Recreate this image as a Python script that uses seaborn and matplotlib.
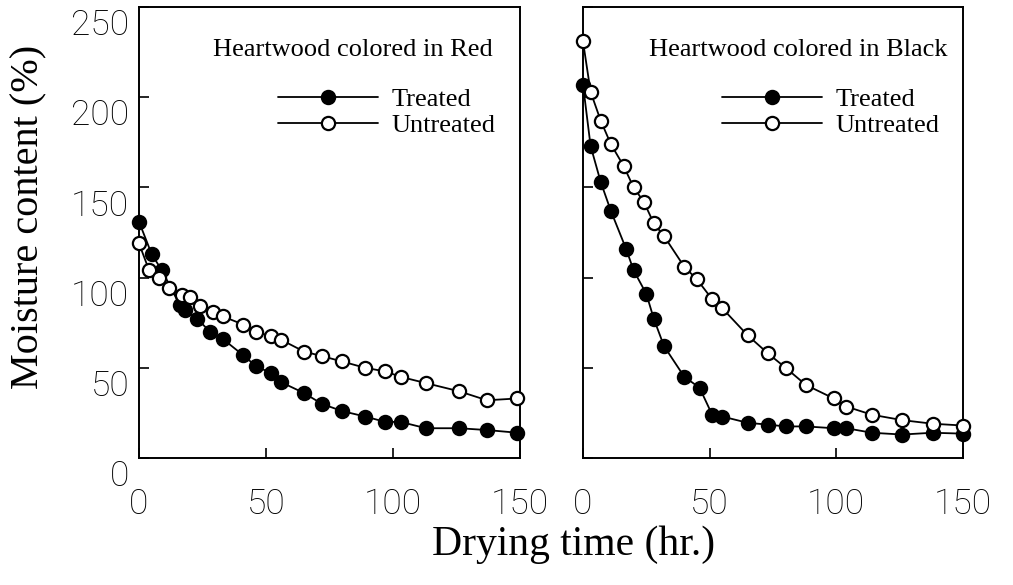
import numpy as np
import pandas as pd
import matplotlib
matplotlib.use("Agg")
import matplotlib.pyplot as plt
import matplotlib.transforms as mtransforms
import seaborn as sns

# Heartwood colored in Red (left panel)
red_treated_t = [0, 5, 9, 16, 18, 23, 28, 33, 41, 46, 52, 56, 65, 72, 80, 89, 97, 103, 113, 126, 137, 149]
red_treated_mc = [131, 113, 104, 85, 82, 77, 70, 66, 57, 51, 47, 42, 36, 30, 26, 23, 20, 20, 16.5, 16.5, 15.5, 14]
red_untreated_t = [0, 4, 8, 12, 17, 20, 24, 29, 33, 41, 46, 52, 56, 65, 72, 80, 89, 97, 103, 113, 126, 137, 149]
red_untreated_mc = [119, 104, 100, 94, 90.5, 89, 84, 81, 78.5, 74, 70, 67.5, 65.5, 59, 56.5, 53.5, 50, 48, 45, 41.5, 37, 32, 33]

# Heartwood colored in Black (right panel)
black_treated_t = [0, 3, 7, 11, 17, 20, 25, 28, 32, 40, 46, 51, 55, 65, 73, 80, 88, 99, 104, 114, 126, 138, 150]
black_treated_mc = [207, 173, 153, 137, 116, 104, 91, 77, 62, 45, 39, 24, 23, 19.5, 18.5, 17.5, 17.5, 16.5, 16.5, 14, 13, 14, 13.5]
black_untreated_t = [0, 3, 7, 11, 16, 20, 24, 28, 32, 40, 45, 51, 55, 65, 73, 80, 88, 99, 104, 114, 126, 138, 150]
black_untreated_mc = [231, 203, 187, 174, 162, 150, 142, 130, 123, 106, 99, 88, 83, 68, 58, 50, 40.5, 33, 28.5, 24, 21, 19, 18]

x_ticks = [0, 50, 100, 150]
y_ticks = [0, 50, 100, 150, 200, 250]

sns.set_style("ticks")
plt.rcParams["text.color"] = "black"
plt.rcParams["xtick.color"] = "black"
plt.rcParams["ytick.color"] = "black"
serif = ["Liberation Serif", "DejaVu Serif"]
sans = ["Roboto", "DejaVu Sans"]

fig = plt.figure(figsize=(10.13, 5.85), dpi=100)
ax_l = fig.add_axes([0.1372, 0.2171, 0.3761, 0.7709])
ax_r = fig.add_axes([0.5755, 0.2171, 0.3751, 0.7709])

panels = [
    (ax_l, "Heartwood colored in Red", red_treated_t, red_treated_mc, red_untreated_t, red_untreated_mc, 0.929),
    (ax_r, "Heartwood colored in Black", black_treated_t, black_treated_mc, black_untreated_t, black_untreated_mc, 0.960),
]

for ax, title, tt, tv, ut, uv, tx in panels:
    sns.lineplot(x=tt, y=tv, ax=ax, color="black", marker="o", markersize=9.5,
                 markerfacecolor="black", markeredgecolor="black", markeredgewidth=1.6,
                 linewidth=1.3, label="Treated", clip_on=False, zorder=3)
    sns.lineplot(x=ut, y=uv, ax=ax, color="black", marker="o", markersize=9.5,
                 markerfacecolor="white", markeredgecolor="black", markeredgewidth=1.6,
                 linewidth=1.3, label="Untreated", clip_on=False, zorder=4)
    ax.set_xlim(0, 150)
    ax.set_ylim(0, 250)
    ax.set_xticks(x_ticks)
    ax.set_yticks(y_ticks)
    ax.set_xlabel("")
    ax.set_ylabel("")
    for s in ax.spines.values():
        s.set_visible(True)
        s.set_linewidth(1.4)
        s.set_color("black")
    ax.tick_params(direction="in", length=7, width=1.2, colors="black",
                   labelcolor="black", top=False, right=False)
    ax.tick_params(axis="x", pad=21)
    ax.tick_params(axis="y", pad=7)
    for lab in ax.get_xticklabels() + ax.get_yticklabels():
        lab.set_fontfamily(sans)
        lab.set_fontsize(25.5)
        lab.set_fontweight("light")
        lab.set_color("black")
    ax.text(tx, 0.905, title, transform=ax.transAxes, ha="right", va="center",
            fontsize=19, family=serif, color="black")
    leg = ax.legend(loc="center left", bbox_to_anchor=(0.365, 0.766),
                    frameon=False, prop={"family": serif, "size": 19},
                    handlelength=3.8, handletextpad=0.5, labelspacing=0.08,
                    borderpad=0, borderaxespad=0)
    for t in leg.get_texts():
        t.set_color("black")

ax_r.tick_params(axis="y", labelleft=False)

# shift y tick labels down slightly as in the original
offset = mtransforms.ScaledTranslation(0, -0.15, fig.dpi_scale_trans)
for lab in ax_l.get_yticklabels():
    lab.set_transform(lab.get_transform() + offset)

fig.text(0.566, 0.068, "Drying time (hr.)", ha="center", va="center",
         fontsize=30, family=serif, color="black")
fig.text(0.029, 0.629, "Moisture content (%)", ha="center", va="center",
         rotation=90, fontsize=29, family=serif, color="black")

plt.savefig("out.png", dpi=100)
